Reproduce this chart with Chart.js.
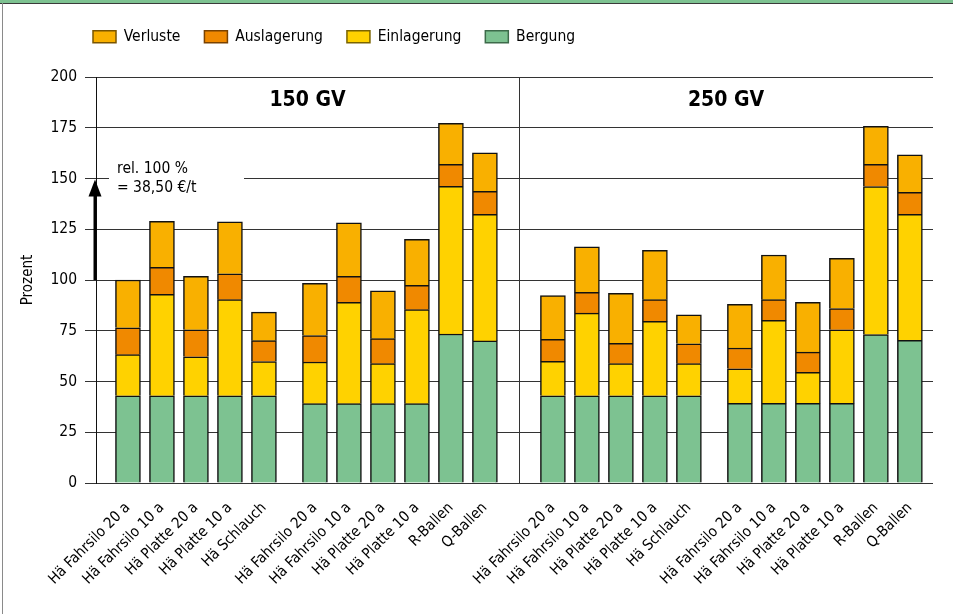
<!DOCTYPE html>
<html lang="de">
<head>
<meta charset="UTF-8">
<title>Kosten der Grassilagebereitung – 150 und 250 GV</title>
<script src="https://cdn.jsdelivr.net/npm/chart.js"></script>
<style>
  html, body { margin: 0; padding: 0; background: #fff; }
  #wrap { position: relative; width: 953px; height: 614px; }
</style>
</head>
<body>
<div id="wrap"><canvas id="myChart"></canvas></div>
<script>
// Verfahren je Bestandsgröße (gleiche Reihenfolge bei 150 und 250 GV)
const verfahren = ['Hä Fahrsilo 20 a', 'Hä Fahrsilo 10 a', 'Hä Platte 20 a', 'Hä Platte 10 a', 'Hä Schlauch',
                   'Hä Fahrsilo 20 a', 'Hä Fahrsilo 10 a', 'Hä Platte 20 a', 'Hä Platte 10 a', 'R-Ballen', 'Q-Ballen'];
const bestaende = ['150 GV', '250 GV'];
const untergruppen = [5, 6];   // Balken je Untergruppe
const yTicks = [0, 25, 50, 75, 100, 125, 150, 175, 200];

// Anteile in Prozent (100 % = 38,50 €/t)
const bergung150     = [43, 43, 43, 43, 43, 39.1, 39.1, 39.1, 39.1, 73.4, 70];
const einlagerung150 = [20.2, 50, 19.2, 47.3, 16.8, 20.5, 49.9, 19.7, 46.3, 72.8, 62.4];
const auslagerung150 = [13.3, 13.3, 13.3, 12.8, 10.3, 13, 12.8, 12.3, 12, 10.8, 11.3];
const verluste150    = [23.5, 22.6, 26.3, 25.6, 14.1, 25.8, 26.4, 23.6, 22.6, 20.2, 18.9];

const bergung250     = [43, 43, 43, 43, 43, 39.2, 39.2, 39.2, 39.2, 73.1, 70.3];
const einlagerung250 = [16.9, 40.7, 15.8, 36.6, 15.8, 17.1, 40.9, 15.3, 36.3, 72.9, 62.1];
const auslagerung250 = [10.9, 10.2, 10, 10.7, 9.8, 10.2, 10.2, 10, 10.4, 11, 10.8];
const verluste250    = [21.5, 22.4, 24.6, 24.3, 14.3, 21.5, 22, 24.5, 24.8, 18.7, 18.5];

const FONT = '"DejaVu Sans Condensed", "Liberation Sans", sans-serif';

// Balkenpositionen: ein Fach je Balken, halbes Fach zwischen den Untergruppen,
// zusätzlich ein halbes Fach zwischen den Bestandsgrößen
const xPos = [];
const xLabels = [];
const trenner = [];
let pos = 1;
bestaende.forEach((b, bi) => {
  let k = 0;
  untergruppen.forEach(n => {
    for (let i = 0; i < n; i++) { xPos.push(pos); xLabels.push(verfahren[k++]); pos += 1; }
    pos += 0.5;
  });
  if (bi < bestaende.length - 1) trenner.push(pos - 0.5);
  pos += 0.5;
});

function reihe(a, b) {
  return a.concat(b).map((v, i) => ({ x: xPos[i], y: v }));
}

const xMin = 0.06, xMax = 24.68;

const legendeRand = ['#3d6b4a', '#7a6400', '#7a4200', '#7a5500'];

const rahmen = {
  id: 'rahmen',
  beforeInit(chart) {
    const fit = chart.legend.fit;
    chart.legend.fit = function () { fit.call(this); this.height = 72; };
  },
  afterLayout(chart) {
    // Legende bündig mit der Diagrammfläche
    chart.legend.left = chart.chartArea.left - 27;
  },
  beforeDatasetsDraw(chart) {
    const { ctx, scales: { x, y } } = chart;
    ctx.save();
    ctx.strokeStyle = '#333';
    ctx.lineWidth = 1;
    trenner.forEach(t => {
      const px = Math.round(x.getPixelForValue(t)) + 0.5;
      ctx.beginPath();
      ctx.moveTo(px, y.getPixelForValue(200));
      ctx.lineTo(px, y.getPixelForValue(0));
      ctx.stroke();
    });
    ctx.restore();
  },
  afterDatasetsDraw(chart) {
    const { ctx, scales: { x, y } } = chart;
    const x0 = x.left;
    const y150 = y.getPixelForValue(150);
    const y100 = y.getPixelForValue(100);
    ctx.save();
    // Lücke in der 150er-Linie für den Hinweis
    ctx.fillStyle = '#fff';
    ctx.fillRect(x0 + 13, y150 - 3, 135, 6);
    // Pfeil von 100 auf 150
    ctx.strokeStyle = '#000';
    ctx.lineWidth = 3;
    ctx.beginPath();
    ctx.moveTo(x0 - 1, y100);
    ctx.lineTo(x0 - 1, y150 + 14);
    ctx.stroke();
    ctx.fillStyle = '#000';
    ctx.beginPath();
    ctx.moveTo(x0 - 1, y150 + 1);
    ctx.lineTo(x0 - 7.5, y150 + 18);
    ctx.lineTo(x0 + 5.5, y150 + 18);
    ctx.closePath();
    ctx.fill();
    ctx.font = '15.5px ' + FONT;
    ctx.textBaseline = 'alphabetic';
    ctx.textAlign = 'left';
    ctx.fillText('rel. 100 %', x0 + 21, y150 - 6);
    ctx.fillText('= 38,50 €/t', x0 + 21, y150 + 13);

    // Bestandsgrößen über den Gruppen
    const grenzen = [xMin].concat(trenner, [xMax]);
    ctx.font = 'bold 21px ' + FONT;
    ctx.textAlign = 'center';
    ctx.textBaseline = 'middle';
    bestaende.forEach((b, i) => {
      const mx = (x.getPixelForValue(grenzen[i]) + x.getPixelForValue(grenzen[i + 1])) / 2;
      ctx.fillText(b, mx, y.getPixelForValue(188.3));
    });
    ctx.restore();
  },
  afterDraw(chart) {
    const { ctx, width, height } = chart;
    ctx.save();
    ctx.fillStyle = '#7dc291';
    ctx.fillRect(0, 0, width, 3);
    ctx.fillStyle = '#3a3a3a';
    ctx.fillRect(0, 3, width, 1);
    ctx.fillStyle = '#8a8a8a';
    ctx.fillRect(2, 3, 1, height - 3);
    ctx.restore();
  }
};

const ctx = document.getElementById('myChart').getContext('2d');
const myChart = new Chart(ctx, {
  type: 'bar',
  data: {
    datasets: [
      { label: 'Bergung',     data: reihe(bergung150, bergung250),         backgroundColor: '#7dc291' },
      { label: 'Einlagerung', data: reihe(einlagerung150, einlagerung250), backgroundColor: '#ffd200' },
      { label: 'Auslagerung', data: reihe(auslagerung150, auslagerung250), backgroundColor: '#f08900' },
      { label: 'Verluste',    data: reihe(verluste150, verluste250),       backgroundColor: '#f9b000' }
    ]
  },
  options: {
    responsive: true,
    maintainAspectRatio: false,
    animation: false,
    layout: { padding: { top: 5, left: 14, right: 20, bottom: 0 } },
    datasets: {
      bar: { barThickness: 25, borderWidth: 1.5, borderColor: '#111', borderSkipped: 'start' }
    },
    scales: {
      x: {
        type: 'linear',
        stacked: true,
        min: xMin,
        max: xMax,
        offset: false,
        grid: { display: false },
        border: { display: false },
        afterBuildTicks: s => { s.ticks = xPos.map(v => ({ value: v })); },
        afterFit: s => { s.height = 131; },
        ticks: {
          autoSkip: false,
          minRotation: 45,
          maxRotation: 45,
          padding: 8,
          color: '#000',
          font: { family: FONT, size: 15 },
          callback: (v, i) => xLabels[i]
        }
      },
      y: {
        stacked: true,
        min: 0,
        max: 200,
        afterBuildTicks: s => { s.ticks = yTicks.map(v => ({ value: v })); },
        afterFit: s => { s.width = 82; },
        grid: { color: '#333', lineWidth: 1, tickLength: 11 },
        border: { display: true, color: '#111', width: 1 },
        ticks: { padding: 8, color: '#000', font: { family: FONT, size: 15.5 } },
        title: { display: true, text: 'Prozent', color: '#000', padding: 5, font: { family: FONT, size: 15 } }
      }
    },
    plugins: {
      legend: {
        position: 'top',
        align: 'start',
        reverse: true,
        labels: {
          boxWidth: 23,
          boxHeight: 12,
          padding: 24,
          color: '#000',
          font: { family: FONT, size: 15.5 },
          generateLabels(chart) {
            const items = Chart.defaults.plugins.legend.labels.generateLabels(chart);
            items.forEach(it => { it.strokeStyle = legendeRand[it.datasetIndex]; it.lineWidth = 1.5; });
            return items;
          }
        }
      },
      tooltip: { enabled: false }
    }
  },
  plugins: [rahmen]
});
</script>
</body>
</html>
